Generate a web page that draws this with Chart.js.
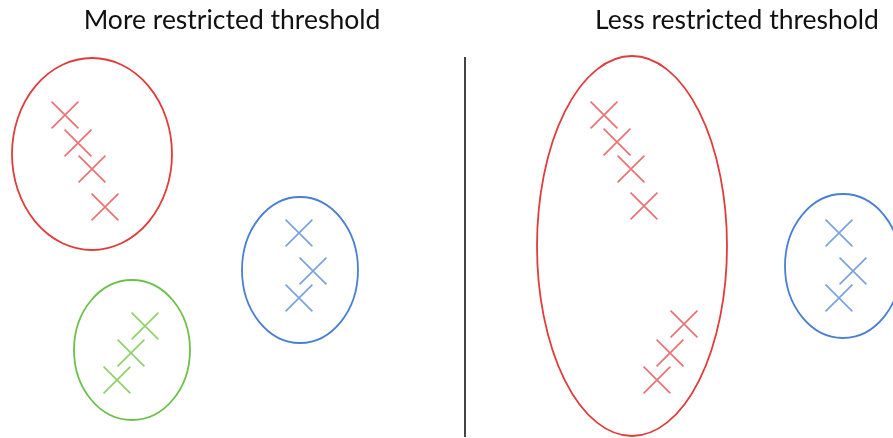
<!DOCTYPE html>
<html>
<head>
<meta charset="utf-8">
<script src="https://cdn.jsdelivr.net/npm/chart.js@4"></script>
<style>
  html, body { margin: 0; padding: 0; background: #fff; }
  #wrap { width: 893px; height: 438px; }
</style>
</head>
<body>
<div id="wrap"><canvas id="chart" width="893" height="438"></canvas></div>
<script>
// points (diagram units = pixels of the original picture, y grows downward)
const leftRedX = [65, 78, 92, 105];
const leftRedY = [115, 143, 169, 207];
const leftGreenX = [145, 131, 117];
const leftGreenY = [326, 353, 380];
const leftBlueX = [299, 313, 299];
const leftBlueY = [233, 271, 298];
const rightRedX = [604, 617, 631, 644, 684, 670, 657];
const rightRedY = [115, 142, 169, 206, 324, 353, 380];
const rightBlueX = [839, 853, 839];
const rightBlueY = [233, 271, 298];

// cluster outlines: centre x, centre y, radius x, radius y
const clusterCx = [92, 132, 300, 632, 843];
const clusterCy = [154, 350, 270, 246, 266];
const clusterRx = [80, 58, 58, 95, 58];
const clusterRy = [96, 70, 73, 190, 72];
const clusterColor = ['#e03c3c', '#6cc04a', '#4a7fd4', '#e03c3c', '#4a7fd4'];

// divider and titles
const dividerX = [465, 465];
const dividerY = [57, 437];
const titles = ['More restricted threshold', 'Less restricted threshold'];
const titleX = [232, 737];
const titleY = [20, 20];

const RED = '#ef6f6f';
const GREEN = '#8fd06a';
const BLUE = '#79a0e0';

function pts(xs, ys) {
  return xs.map((x, i) => ({ x, y: ys[i] }));
}

function crossSet(label, xs, ys, color) {
  return {
    label,
    data: pts(xs, ys),
    showLine: false,
    pointStyle: 'crossRot',
    pointRadius: 19,
    pointHoverRadius: 19,
    pointBorderColor: color,
    pointBorderWidth: 1.6,
    borderColor: color,
    backgroundColor: color
  };
}

const clusterPlugin = {
  id: 'clusters',
  afterDatasetsDraw(chart) {
    const { ctx, scales: { x, y } } = chart;
    ctx.save();
    clusterCx.forEach((cx, i) => {
      const px = x.getPixelForValue(cx);
      const py = y.getPixelForValue(clusterCy[i]);
      const rx = Math.abs(x.getPixelForValue(cx + clusterRx[i]) - px);
      const ry = Math.abs(y.getPixelForValue(clusterCy[i] + clusterRy[i]) - py);
      ctx.beginPath();
      ctx.ellipse(px, py, rx, ry, 0, 0, Math.PI * 2);
      ctx.strokeStyle = clusterColor[i];
      ctx.lineWidth = 1.8;
      ctx.stroke();
    });
    ctx.fillStyle = '#111';
    ctx.font = '26.5px Lato, "Open Sans", sans-serif';
    ctx.textAlign = 'center';
    ctx.textBaseline = 'middle';
    titles.forEach((t, i) => {
      ctx.fillText(t, x.getPixelForValue(titleX[i]), y.getPixelForValue(titleY[i]));
    });
    ctx.restore();
  }
};

new Chart(document.getElementById('chart'), {
  type: 'scatter',
  data: {
    datasets: [
      crossSet('left red', leftRedX, leftRedY, RED),
      crossSet('left green', leftGreenX, leftGreenY, GREEN),
      crossSet('left blue', leftBlueX, leftBlueY, BLUE),
      crossSet('right red', rightRedX, rightRedY, RED),
      crossSet('right blue', rightBlueX, rightBlueY, BLUE),
      {
        label: 'divider',
        data: pts(dividerX, dividerY),
        showLine: true,
        borderColor: '#444',
        borderWidth: 2,
        pointRadius: 0
      }
    ]
  },
  options: {
    responsive: false,
    animation: false,
    layout: { padding: 0, autoPadding: false },
    plugins: {
      legend: { display: false },
      tooltip: { enabled: false }
    },
    scales: {
      x: { type: 'linear', min: 0, max: 893, display: false },
      y: { type: 'linear', min: 0, max: 438, reverse: true, display: false }
    }
  },
  plugins: [clusterPlugin]
});
</script>
</body>
</html>
